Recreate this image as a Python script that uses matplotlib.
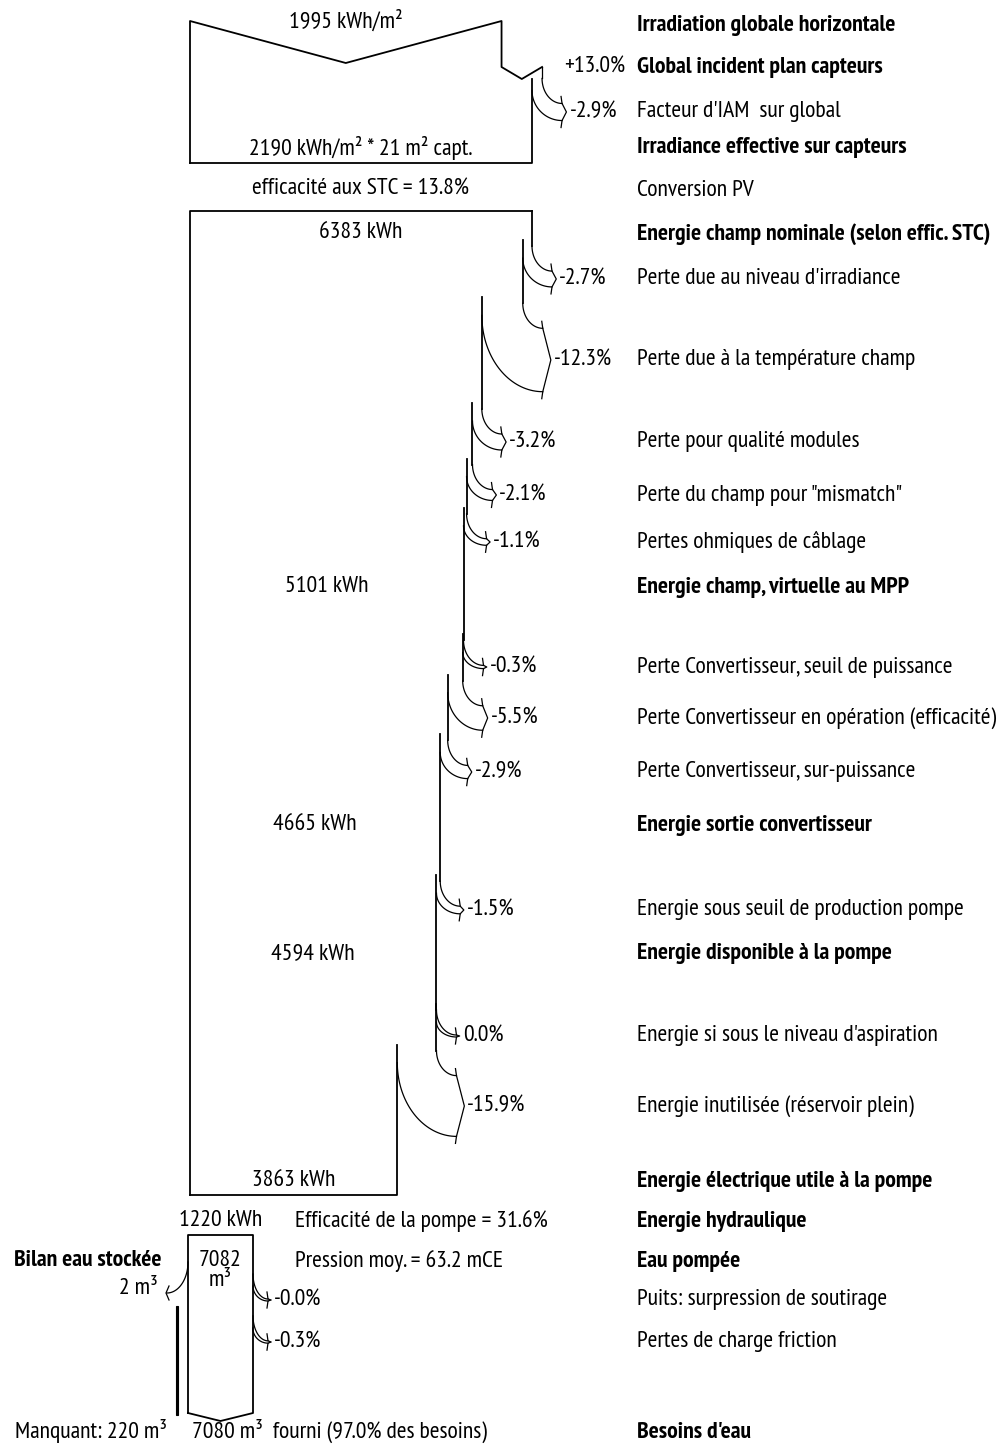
import numpy as np
import matplotlib
matplotlib.use('Agg')
import matplotlib.pyplot as plt
from matplotlib.patches import Rectangle

plt.rcParams['font.family'] = ['PT Sans Narrow', 'Roboto Condensed', 'DejaVu Sans']

# irradiation (kWh/m2)
ghi = 1995
gain_transpo = 13.0
loss_iam = -2.9
irr_eff = 2190
area_capt = 21
eff_stc = 13.8

# energy chain (kWh) and losses (%)
e_nominal = 6383
loss_pct = [-2.7, -12.3, -3.2, -2.1, -1.1, -0.3, -5.5, -2.9, -1.5, 0.0, -15.9]
loss_names = ["Perte due au niveau d'irradiance",
              "Perte due à la température champ",
              "Perte pour qualité modules",
              'Perte du champ pour "mismatch"',
              "Pertes ohmiques de câblage",
              "Perte Convertisseur, seuil de puissance",
              "Perte Convertisseur en opération (efficacité)",
              "Perte Convertisseur, sur-puissance",
              "Energie sous seuil de production pompe",
              "Energie si sous le niveau d'aspiration",
              "Energie inutilisée (réservoir plein)"]
inter_names = ["Energie champ, virtuelle au MPP",
               "Energie sortie convertisseur",
               "Energie disponible à la pompe"]
inter_values = [5101, 4665, 4594]
inter_after = [4, 7, 8]   # index of the loss just above each intermediate value
e_useful = 3863
e_hydro = 1220
pump_eff = 31.6
pressure = 63.2

# water (m3)
water_pumped = 7082
water_loss_pct = [-0.0, -0.3]
water_loss_names = ["Puits: surpression de soutirage", "Pertes de charge friction"]
water_stored = 2
water_missing = 220
water_supplied = 7080
need_pct = 97.0

# layout (pixels)
X0 = 190
BOX_W = 342
loss_y = [279, 360, 442, 495, 542, 667, 718, 772, 910, 1036, 1106]
inter_y = [587, 825, 954]
water_loss_y = [1300, 1342]
LW_MAIN = 1.3
LW_ARR = 0.9


def loss_arrow(ax, x_out, x_in, yl, label, tip_dx=20):
    w = x_out - x_in
    s = 1.5 * w + 2
    y_top = yl - s / 2
    y_bot = yl + s / 2
    x_tip = x_out + tip_dx
    y_out0 = y_top - 25
    y_in0 = y_top - 13
    t = np.linspace(0, np.pi / 2, 40)
    ax.plot(x_out + (x_tip - x_out) * (1 - np.cos(t)),
            y_out0 + (y_top - y_out0) * np.sin(t), color='black', lw=LW_ARR)
    ax.plot(x_in + (x_tip - x_in) * (1 - np.cos(t)),
            y_in0 + (y_bot - y_in0) * np.sin(t), color='black', lw=LW_ARR)
    p = 3 + 0.08 * s
    ax.plot([x_tip - 1, x_tip, x_tip + p, x_tip, x_tip - 1],
            [y_top - 7, y_top, yl, y_bot, y_bot + 7], color='black', lw=LW_ARR)
    ax.text(x_tip + p + 3, yl, label, va='center', ha='left', fontsize=FS)
    return y_out0, y_top - 31


fig = plt.figure(figsize=(10.04, 14.52), dpi=100)
ax = fig.add_axes([0, 0, 1, 1])
ax.set_xlim(0, 1004)
ax.set_ylim(1452, 0)
ax.axis('off')

# font size: make the longest loss label about as wide as in the reference
renderer = fig.canvas.get_renderer()
probe = ax.text(0, 0, loss_names[6], fontsize=15)
FS = 15 * 361 / probe.get_window_extent(renderer).width
probe.remove()

# ---- irradiation part
sc_irr = BOX_W / irr_eff
x_ghi = X0 + ghi * sc_irr
x_gain = X0 + ghi * (1 + gain_transpo / 100) * sc_irr
x_eff = X0 + irr_eff * sc_irr
x_mid = (X0 + x_ghi) / 2
ax.plot([X0, X0, x_mid, x_ghi, x_ghi, (x_ghi + x_gain) / 2, x_gain],
        [163, 21, 63, 21, 67, 79, 67], color='black', lw=LW_MAIN)
ax.text(x_gain + 22, 67, '+%.1f%%' % gain_transpo, va='center', fontsize=FS)
y_o, y_e = loss_arrow(ax, x_gain, x_eff, 112, '%.1f%%' % loss_iam)
ax.plot([x_gain, x_gain], [67, y_o], color='black', lw=LW_ARR)
ax.plot([x_eff, x_eff, X0], [79, 163, 163], color='black', lw=LW_MAIN)
ax.text(x_mid, 22, '%d kWh/m²' % ghi, ha='center', va='center', fontsize=FS)
ax.text((X0 + x_eff) / 2, 148, '%d kWh/m² * %d m² capt.' % (irr_eff, area_capt),
        ha='center', va='center', fontsize=FS)
ax.text((X0 + x_eff) / 2, 189, 'efficacité aux STC = %.1f%%' % eff_stc,
        ha='center', va='center', fontsize=FS)

# ---- energy chain
sc_e = BOX_W / e_nominal
widths = [e_nominal * sc_e]
for p in loss_pct:
    widths.append(widths[-1] * (1 + p / 100))
edges = [X0 + w for w in widths]
ax.plot([X0, X0, edges[0]], [1195, 211, 211], color='black', lw=LW_MAIN)
ax.text((X0 + edges[0]) / 2, 233, '%d kWh' % e_nominal, ha='center', va='center', fontsize=FS)
seg_top = 211
for i, p in enumerate(loss_pct):
    y_o, y_e = loss_arrow(ax, edges[i], edges[i + 1], loss_y[i], '%.1f%%' % p)
    ax.plot([edges[i], edges[i]], [seg_top, y_o], color='black', lw=LW_MAIN)
    seg_top = y_e
ax.plot([edges[-1], edges[-1], X0], [seg_top, 1195, 1195], color='black', lw=LW_MAIN)
for v, k, y in zip(inter_values, inter_after, inter_y):
    ax.text((X0 + edges[k + 1]) / 2, y, '%d kWh' % v, ha='center', va='center', fontsize=FS)
ax.text((X0 + edges[-1]) / 2, 1181, '%d kWh' % e_useful, ha='center', va='center', fontsize=FS)

# ---- pump / water part
WX0 = 188
sc_w = 65 / water_pumped
wx1 = WX0 + water_pumped * sc_w
wc = (WX0 + wx1) / 2
ax.plot([WX0, WX0, wx1, wx1, wc, WX0], [1413, 1235, 1235, 1413, 1421, 1413],
        color='black', lw=LW_MAIN)
ax.text(wc, 1221, '%d kWh' % e_hydro, ha='center', va='center', fontsize=FS)
ax.text(295, 1221, 'Efficacité de la pompe = %.1f%%' % pump_eff, va='center', fontsize=FS)
ax.text(295, 1261, 'Pression moy. = %.1f mCE' % pressure, va='center', fontsize=FS)
ax.text(wc, 1260, '%d' % water_pumped, ha='center', va='center', fontsize=FS)
ax.text(wc, 1281, 'm³', ha='center', va='center', fontsize=FS)
for p, y in zip(water_loss_pct, water_loss_y):
    loss_arrow(ax, wx1, wx1 - abs(p) / 100 * water_pumped * sc_w, y, '%.1f%%' % p, tip_dx=15)

ax.add_patch(Rectangle((WX0 - 12, 1306), water_missing * sc_w, 109,
                       facecolor='black', edgecolor='black', lw=0.8))
t = np.linspace(0, np.pi / 2, 40)
ax.plot(WX0 - 21 * (1 - np.cos(t)), 1262 + 31 * np.sin(t), color='black', lw=LW_ARR)
ax.plot([169, 166, 169], [1286, 1293, 1300], color='black', lw=LW_ARR)
ax.text(162, 1260, 'Bilan eau stockée', ha='right', va='center', fontsize=FS, fontweight='bold')
ax.text(158, 1289, '%d m³' % water_stored, ha='right', va='center', fontsize=FS)
ax.text(167, 1431, 'Manquant: %d m³' % water_missing, ha='right', va='center', fontsize=FS)
ax.text(192, 1431, '%d m³  fourni (%.1f%% des besoins)' % (water_supplied, need_pct),
        va='center', fontsize=FS)

# ---- right column
right_rows = [("Irradiation globale horizontale", 25, True),
              ("Global incident plan capteurs", 67, True),
              ("Facteur d'IAM  sur global", 112, False),
              ("Irradiance effective sur capteurs", 147, True),
              ("Conversion PV", 191, False),
              ("Energie champ nominale (selon effic. STC)", 234, True)]
right_rows += [(n, y, False) for n, y in zip(loss_names, loss_y)]
right_rows += [(n, y, True) for n, y in zip(inter_names, inter_y)]
right_rows += [("Energie électrique utile à la pompe", 1181, True),
               ("Energie hydraulique", 1221, True),
               ("Eau pompée", 1261, True),
               ("Besoins d'eau", 1432, True)]
right_rows += [(n, y, False) for n, y in zip(water_loss_names, water_loss_y)]
for txt, y, bold in right_rows:
    ax.text(637, y, txt, va='center', ha='left', fontsize=FS,
            fontweight='bold' if bold else 'normal')

fig.savefig('out.png', dpi=100, facecolor='white')
